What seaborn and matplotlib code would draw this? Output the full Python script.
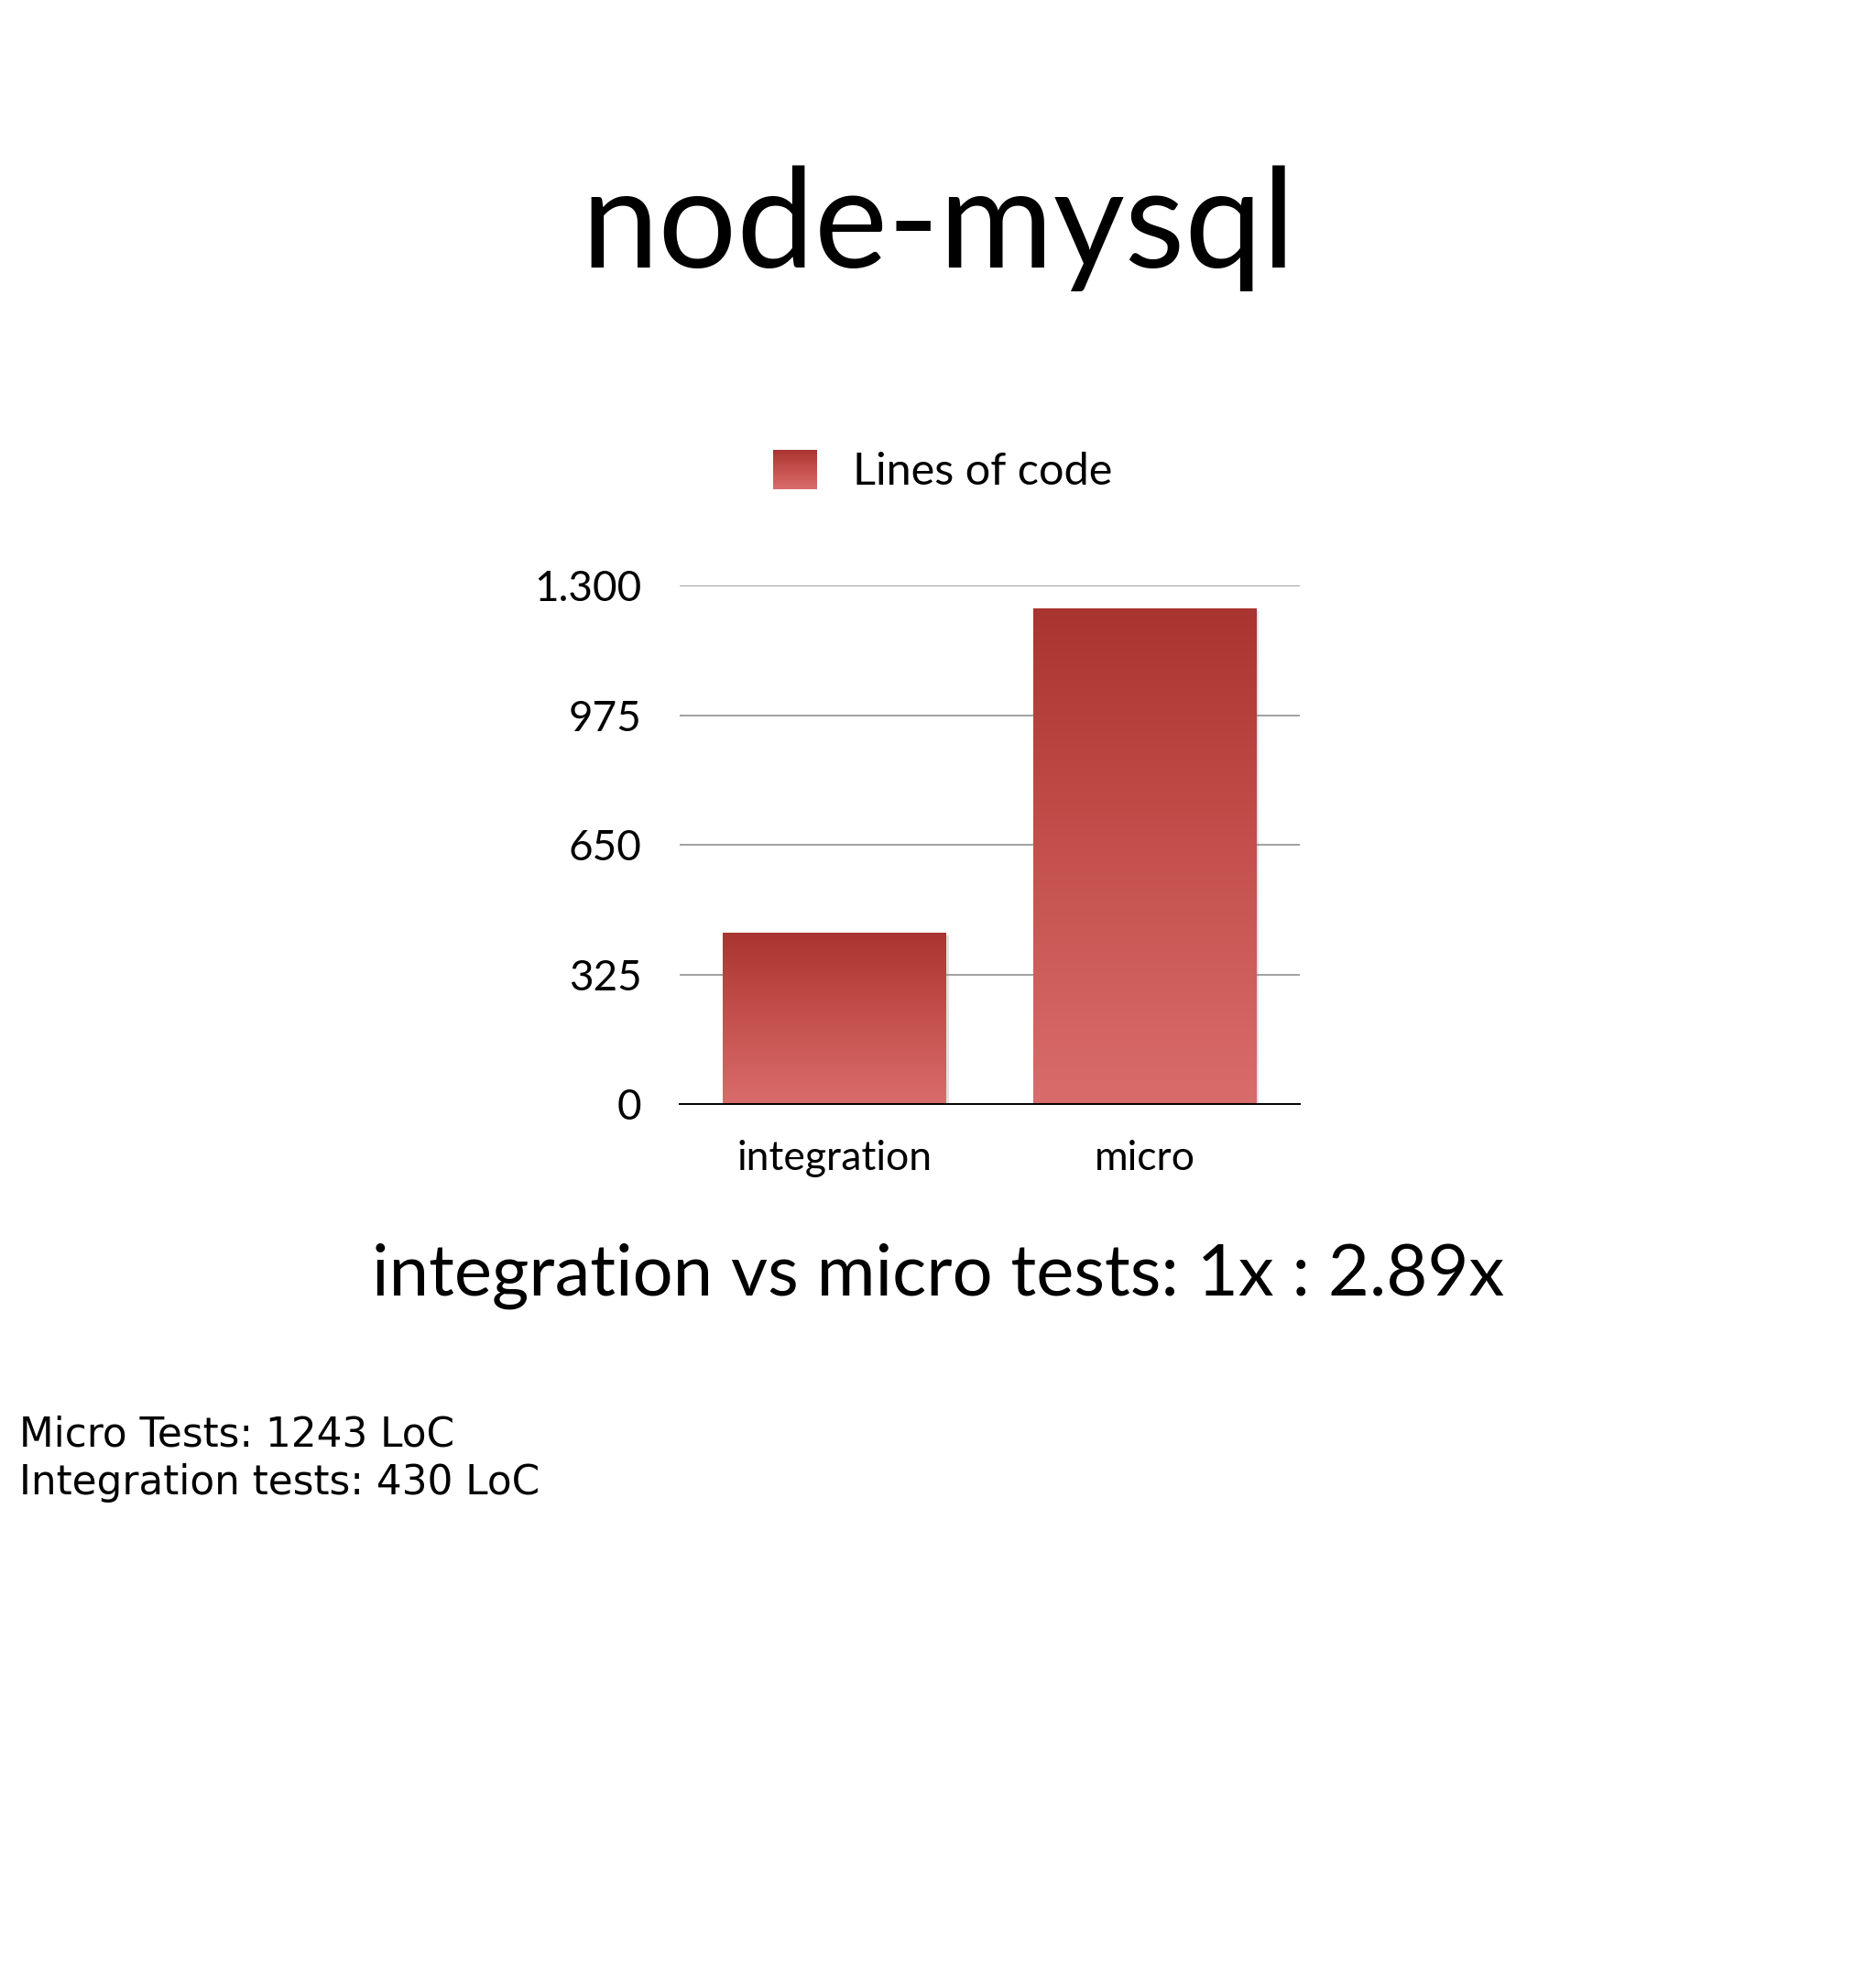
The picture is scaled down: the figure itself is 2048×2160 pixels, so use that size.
import numpy as np
import pandas as pd
import matplotlib
matplotlib.use("Agg")
import matplotlib.pyplot as plt
import matplotlib.patheffects as pe
from matplotlib.colors import LinearSegmentedColormap
from matplotlib.patches import Patch, Rectangle
from matplotlib.legend_handler import HandlerBase
import seaborn as sns

# ---- data ----
categories = ["integration", "micro"]
lines_of_code = [430, 1243]
series_label = "Lines of code"
y_ticks = [0, 325, 650, 975, 1300]
y_tick_labels = ["0", "325", "650", "975", "1.300"]
title = "node-mysql"
subtitle = "integration vs micro tests: 1x : 2.89x"
notes = ["Micro Tests: 1243 LoC", "Integration tests: 430 LoC"]

df = pd.DataFrame({"category": categories, "loc": lines_of_code})

sns.set_theme(style="white")
plt.rcParams["font.family"] = ["Lato", "DejaVu Sans"]
plt.rcParams["text.color"] = "black"

fig = plt.figure(figsize=(20.48, 21.6), dpi=100)
fig.patch.set_facecolor("white")
ax = fig.add_axes([0.3623, 0.4421, 0.3306, 0.2620])

light, mid, dark = "#D96C6C", "#C4514D", "#A8352F"
cmap = LinearSegmentedColormap.from_list("bar", [light, mid, dark])

sns.barplot(data=df, x="category", y="loc", color=mid, width=0.72,
            saturation=1, ax=ax, zorder=3)

grad = np.linspace(0, 1, 256).reshape(-1, 1)
for p in list(ax.patches):
    p.set_edgecolor("none")
    p.set_path_effects([pe.SimplePatchShadow(offset=(2, -2), shadow_rgbFace="#999999", alpha=0.3),
                        pe.Normal()])
    x0, y0, w, h = p.get_x(), p.get_y(), p.get_width(), p.get_height()
    im = ax.imshow(grad, extent=[x0, x0 + w, y0, y0 + h], origin="lower",
                   aspect="auto", cmap=cmap, zorder=4)
    im.set_clip_path(p)

ax.set_xlim(-0.5, 1.5)
ax.set_ylim(0, 1300)
ax.set_aspect("auto")
ax.set_yticks(y_ticks)
ax.set_yticklabels(y_tick_labels)
ax.yaxis.grid(True, color="#999999", linewidth=1.3, zorder=0)
ax.set_axisbelow(True)
for s in ["top", "right", "left"]:
    ax.spines[s].set_visible(False)
ax.spines["bottom"].set_color("black")
ax.spines["bottom"].set_linewidth(1.4)
ax.spines["bottom"].set_zorder(6)
ax.tick_params(axis="y", length=0, pad=30, labelsize=33, labelcolor="black")
ax.tick_params(axis="x", length=0, pad=28, labelsize=32, labelcolor="black")
ax.set_xlabel("")
ax.set_ylabel("")


class GradientHandler(HandlerBase):
    def create_artists(self, legend, orig_handle, xdescent, ydescent,
                       width, height, fontsize, trans):
        n = 40
        arts = []
        for i in range(n):
            r = Rectangle((-xdescent, -ydescent + height * i / n), width, height / n * 1.05,
                          facecolor=cmap(i / (n - 1)), edgecolor="none", transform=trans)
            arts.append(r)
        return arts


proxy = Patch(facecolor=mid, edgecolor="none")
leg = fig.legend(handles=[proxy], labels=[series_label],
                 loc="center", bbox_to_anchor=(0.5025, 0.762), frameon=False,
                 fontsize=35, handlelength=1.0, handleheight=1.0, handletextpad=0.8,
                 labelcolor="black",
                 handler_map={Patch: GradientHandler()})

fig.text(0.5, 0.8648, title, ha="center", va="baseline", fontsize=109, color="black")
fig.text(0.5, 0.3454, subtitle, ha="center", va="baseline", fontsize=56, color="black")
fig.text(0.0103, 0.2694, notes[0], ha="left", va="baseline", fontsize=31.5,
         family=["DejaVu Sans"], color="black")
fig.text(0.0103, 0.2449, notes[1], ha="left", va="baseline", fontsize=31.5,
         family=["DejaVu Sans"], color="black")

fig.savefig("out.png", dpi=100, facecolor="white")
